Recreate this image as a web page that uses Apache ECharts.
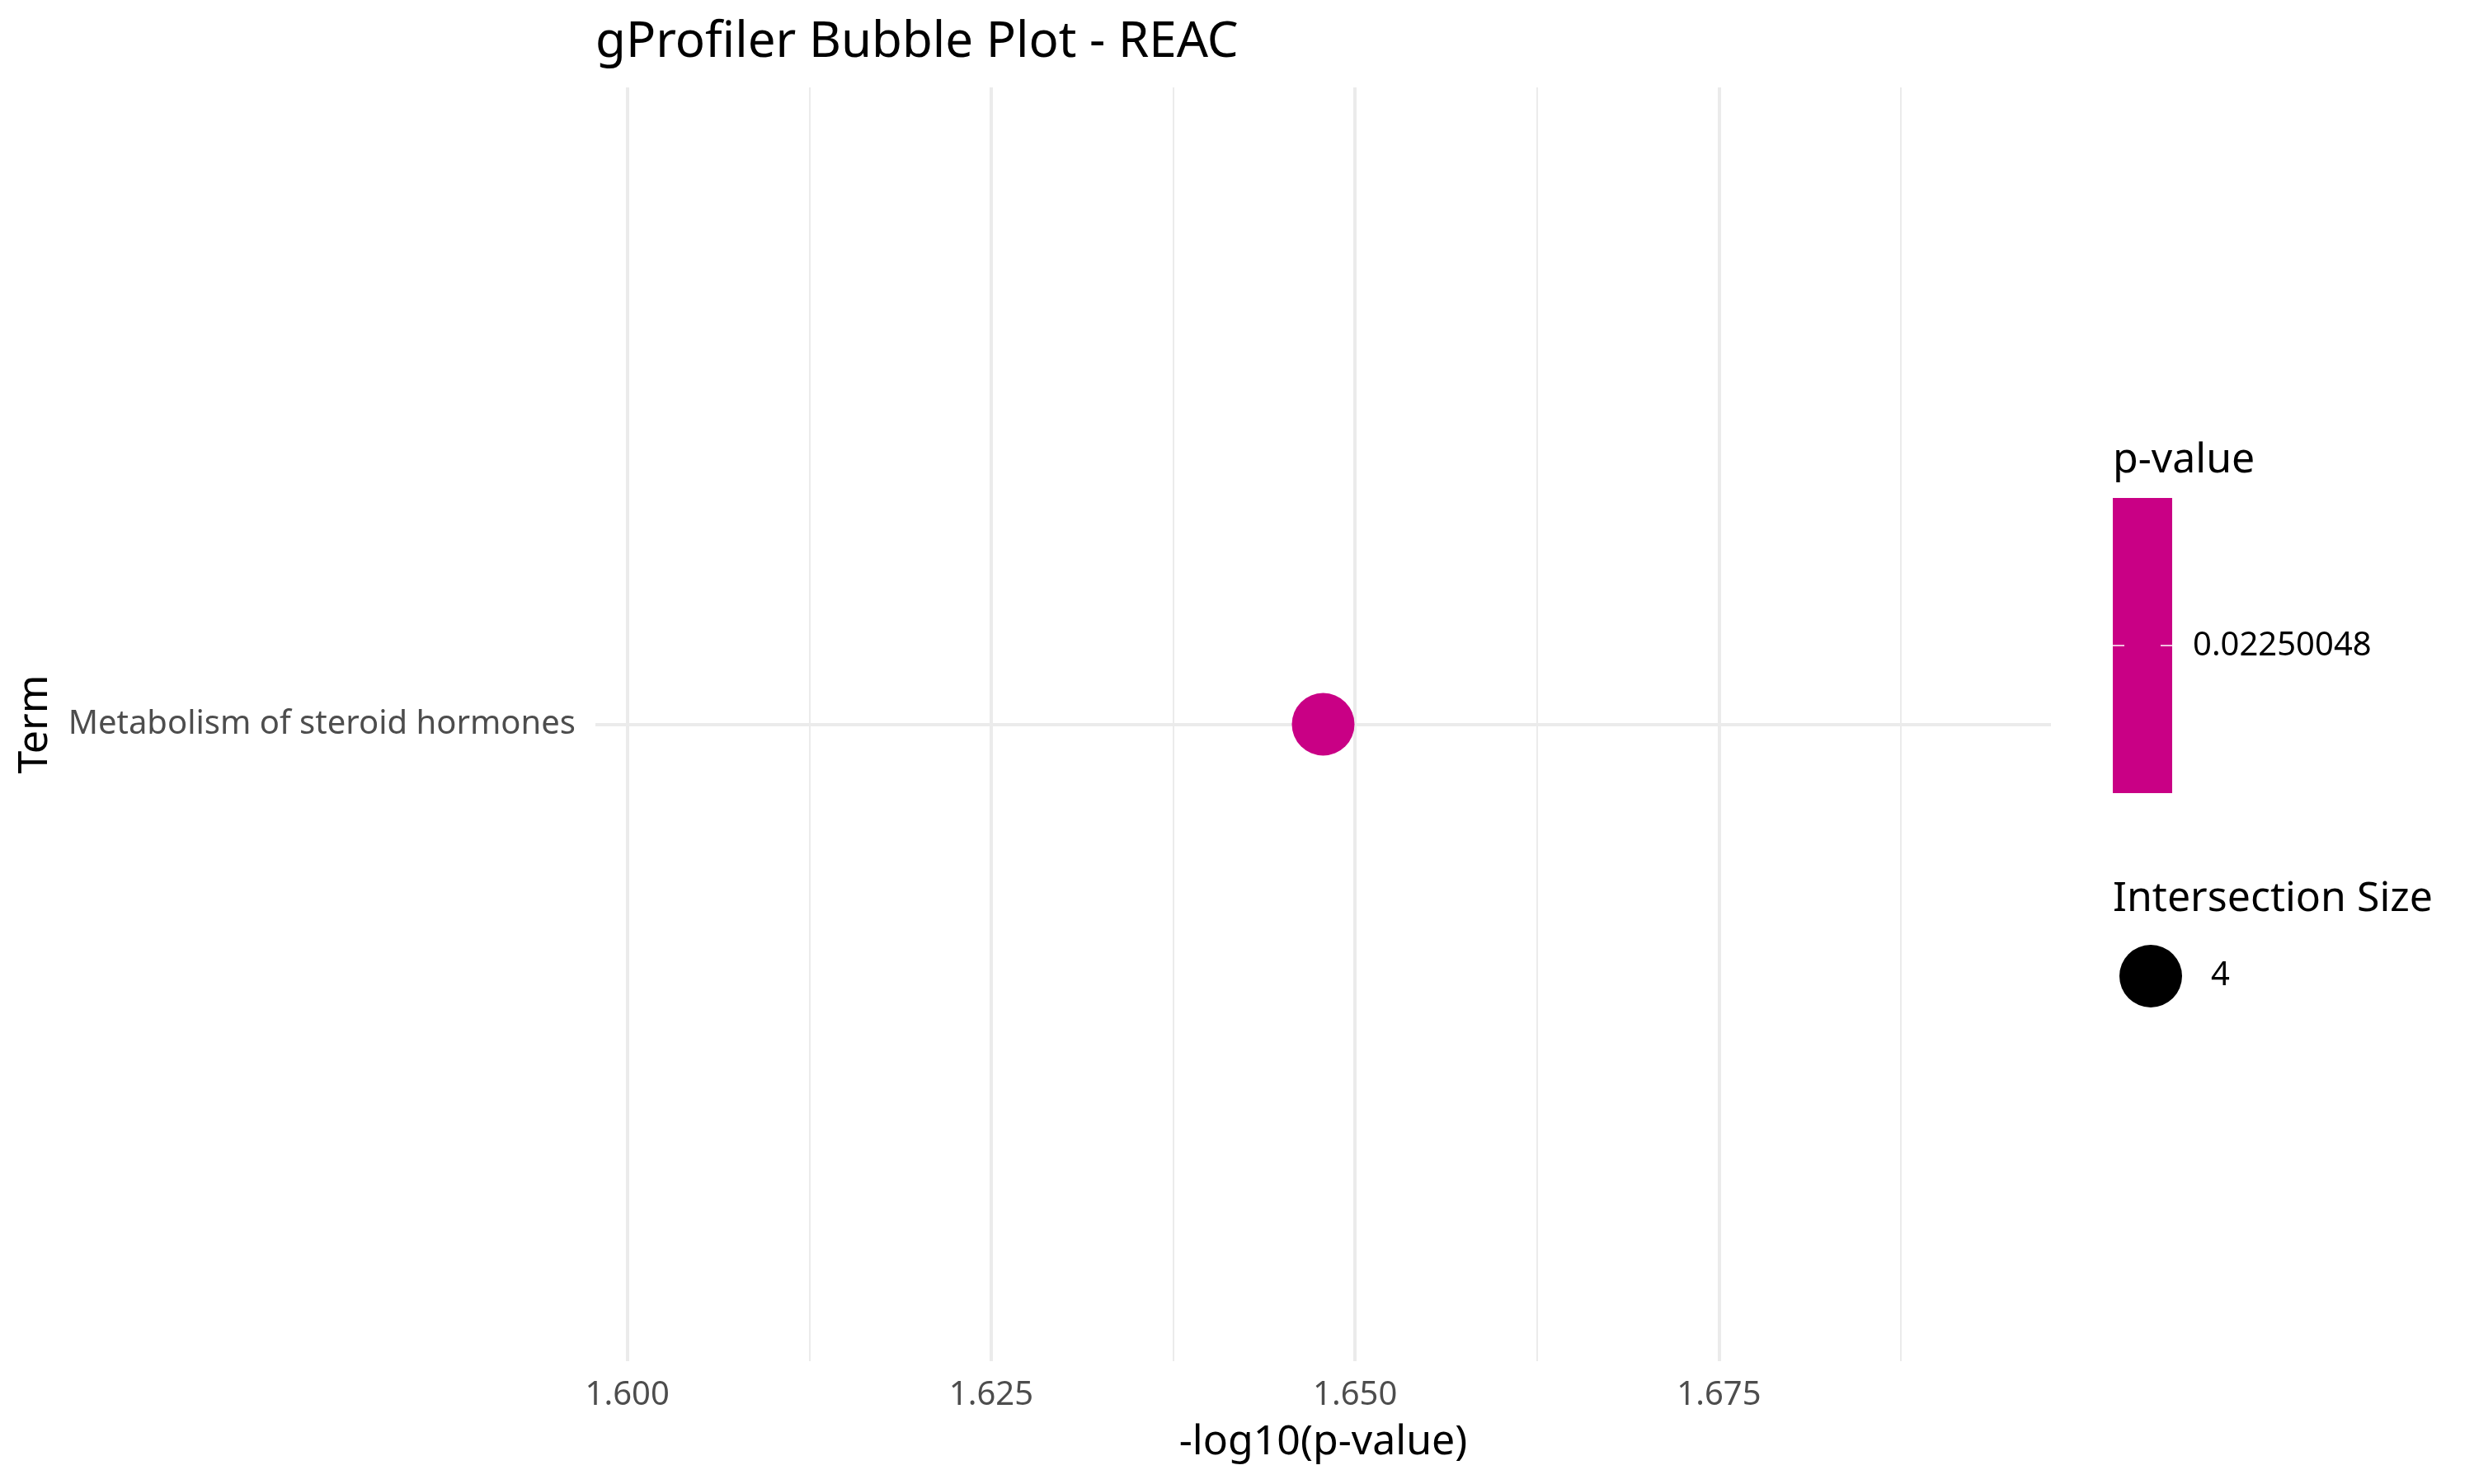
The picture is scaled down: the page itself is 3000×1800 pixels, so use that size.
<!DOCTYPE html>
<html>
<head>
<meta charset="utf-8">
<script src="https://cdn.jsdelivr.net/npm/echarts@6/dist/echarts.min.js"></script>
<style>
html,body{margin:0;padding:0;background:#fff;}
#chart{width:3000px;height:1800px;}
</style>
</head>
<body>
<div id="chart"></div>
<script>
// ---- data ----
const terms = ['Metabolism of steroid hormones'];
const negLog10P = [1.647808];
const pValues = [0.02250048];
const intersectionSizes = [4];
const xMajorTicks = [1.600, 1.625, 1.650, 1.675];
const xMinorTicks = [1.6125, 1.6375, 1.6625, 1.6875];
const colorLegendLabels = ['0.02250048'];
const sizeLegendLabels = ['4'];

const FONT = '"Noto Sans", "Open Sans", sans-serif';
const POINT_COLOR = '#C90085';
const GRID_COLOR = '#EBEBEB';
const xMin = 1.597808, xMax = 1.697808;

const chart = echarts.init(document.getElementById('chart'));

const seriesData = terms.map((t, i) => ({
  value: [negLog10P[i], t, pValues[i], intersectionSizes[i]]
}));

const option = {
  backgroundColor: '#ffffff',
  animation: false,
  title: {
    text: 'gProfiler Bubble Plot - REAC',
    left: 717,
    top: 17,
    textStyle: {fontFamily: FONT, fontSize: 60, fontWeight: 'normal', color: '#000'}
  },
  grid: {left: 722, right: 513, top: 106, bottom: 149},
  xAxis: [
    {
      type: 'value', min: xMin, max: xMax,
      name: '-log10(p-value)', nameLocation: 'middle', nameGap: 74,
      nameTextStyle: {fontFamily: FONT, fontSize: 50, color: '#000'},
      axisLine: {show: false},
      axisTick: {show: false, customValues: xMajorTicks},
      axisLabel: {
        customValues: xMajorTicks, margin: 22,
        fontFamily: FONT, fontSize: 40, color: '#4D4D4D',
        formatter: v => Number(v).toFixed(3)
      },
      splitLine: {show: true, lineStyle: {color: GRID_COLOR, width: 4}}
    },
    {
      type: 'value', min: xMin, max: xMax, position: 'bottom',
      axisLine: {show: false},
      axisTick: {show: false, customValues: xMinorTicks},
      axisLabel: {show: false, customValues: xMinorTicks},
      splitLine: {show: true, lineStyle: {color: GRID_COLOR, width: 2}}
    }
  ],
  yAxis: {
    type: 'category', data: terms,
    name: 'Term', nameLocation: 'middle', nameGap: 654,
    nameTextStyle: {fontFamily: FONT, fontSize: 50, color: '#000'},
    axisLine: {show: false},
    axisTick: {show: false, alignWithLabel: true},
    axisLabel: {margin: 24, padding: [6, 0, 0, 0], fontFamily: FONT, fontSize: 40, color: '#4D4D4D'},
    splitLine: {show: true, alignWithLabel: true, lineStyle: {color: GRID_COLOR, width: 4}}
  },
  series: [{
    type: 'scatter',
    xAxisIndex: 0,
    data: seriesData,
    symbol: 'circle',
    symbolSize: 76,
    itemStyle: {color: POINT_COLOR, opacity: 1},
    z: 10
  }],
  graphic: [
    // p-value colour bar legend
    {type: 'text', left: 2562, top: 534, style: {text: 'p-value', font: '50px ' + FONT, fill: '#000'}},
    {type: 'rect', shape: {x: 2562, y: 604, width: 72, height: 358}, style: {fill: POINT_COLOR}},
    {type: 'line', shape: {x1: 2562, y1: 783, x2: 2576, y2: 783}, style: {stroke: '#fff', lineWidth: 1.5}},
    {type: 'line', shape: {x1: 2620, y1: 783, x2: 2634, y2: 783}, style: {stroke: '#fff', lineWidth: 1.5}},
    {type: 'text', x: 2659, y: 784, style: {text: colorLegendLabels[0], font: '40px ' + FONT, fill: '#000', textVerticalAlign: 'middle'}},
    // size legend
    {type: 'text', left: 2562, top: 1066, style: {text: 'Intersection Size', font: '50px ' + FONT, fill: '#000'}},
    {type: 'circle', shape: {cx: 2608, cy: 1184, r: 38}, style: {fill: '#000'}},
    {type: 'text', x: 2681, y: 1184, style: {text: sizeLegendLabels[0], font: '40px ' + FONT, fill: '#000', textVerticalAlign: 'middle'}}
  ]
};

chart.setOption(option);
</script>
</body>
</html>
